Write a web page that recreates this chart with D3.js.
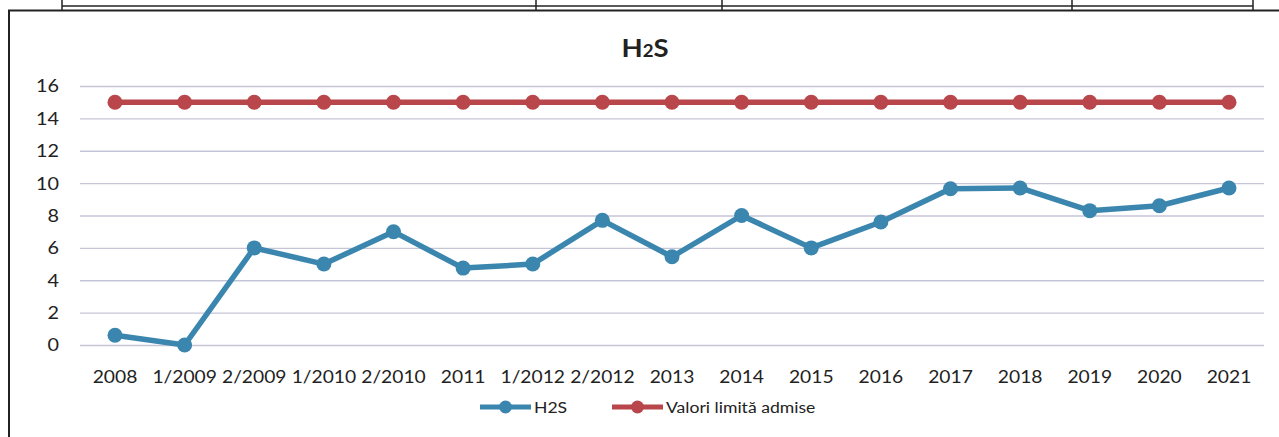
<!DOCTYPE html>
<html>
<head>
<meta charset="utf-8">
<script src="https://cdn.jsdelivr.net/npm/d3@7"></script>
<style>
  body { margin: 0; background: #fff; }
  svg { display: block; font-family: Lato, "Open Sans", sans-serif; }
</style>
</head>
<body>
<svg id="chart" width="1279" height="437"></svg>
<script>
// categories on the x axis
var categories = ["2008", "1/2009", "2/2009", "1/2010", "2/2010", "2011", "1/2012", "2/2012",
    "2013", "2014", "2015", "2016", "2017", "2018", "2019", "2020", "2021"];
// measured H2S values
var h2sValues = [0.6, 0, 6, 5, 7, 4.75, 5, 7.7, 5.45, 8, 6, 7.6, 9.65, 9.7, 8.3, 8.6, 9.7];
// admitted limit values
var limitValues = [15, 15, 15, 15, 15, 15, 15, 15, 15, 15, 15, 15, 15, 15, 15, 15, 15];
var yTicks = [0, 2, 4, 6, 8, 10, 12, 14, 16];

var blue = "#3a86ae";
var red = "#b8464b";
var textStretch = 1.1; // the scanned page is a little wider than tall

var svg = d3.select("#chart");

// remnants of the table above the chart (scanned page)
var page = svg.append("g").attr("stroke", "#222").attr("fill", "none");
page.append("line").attr("x1", 62).attr("x2", 1253).attr("y1", 6).attr("y2", 6).attr("stroke-width", 1.5);
[62, 536, 722, 1072, 1253].forEach(function(x){
    page.append("line").attr("x1", x).attr("x2", x).attr("y1", 0).attr("y2", 10).attr("stroke-width", 1.5);
});
// chart frame
page.append("path")
    .attr("d", "M9,437 L9,10.5 L1279,10.5")
    .attr("stroke-width", 2);

var x = d3.scalePoint()
    .domain(categories)
    .range([115, 1229]);

var y = d3.scaleLinear()
    .domain([0, 16])
    .range([345, 86]);

function stretched(px, py){
    return "translate(" + px + "," + py + ") scale(" + textStretch + ",1)";
}

// gridlines
svg.append("g")
    .selectAll("line")
    .data(yTicks)
    .join("line")
    .attr("x1", 80)
    .attr("x2", 1264)
    .attr("y1", function(d){ return y(d) + 0.5; })
    .attr("y2", function(d){ return y(d) + 0.5; })
    .attr("stroke", "#c5c5d8")
    .attr("stroke-width", 1.4);

// y axis labels
svg.append("g")
    .selectAll("text")
    .data(yTicks)
    .join("text")
    .attr("transform", function(d){ return stretched(59, y(d)); })
    .attr("dy", "0.36em")
    .attr("text-anchor", "end")
    .attr("font-size", 18)
    .attr("fill", "#222")
    .text(function(d){ return d; });

// x axis labels
svg.append("g")
    .selectAll("text")
    .data(categories)
    .join("text")
    .attr("transform", function(d){ return stretched(x(d), 383); })
    .attr("text-anchor", "middle")
    .attr("font-size", 17.5)
    .attr("fill", "#222")
    .text(function(d){ return d; });

function drawSeries(values, color){
    var line = d3.line()
        .x(function(d, i){ return x(categories[i]); })
        .y(function(d){ return y(d); });
    svg.append("path")
        .datum(values)
        .attr("d", line)
        .attr("fill", "none")
        .attr("stroke", color)
        .attr("stroke-width", 5.5)
        .attr("stroke-linejoin", "round");
    svg.append("g")
        .selectAll("circle")
        .data(values)
        .join("circle")
        .attr("cx", function(d, i){ return x(categories[i]); })
        .attr("cy", function(d){ return y(d); })
        .attr("r", 7.5)
        .attr("fill", color);
}

drawSeries(limitValues, red);
drawSeries(h2sValues, blue);

// title
var title = svg.append("text")
    .attr("transform", stretched(645, 57))
    .attr("text-anchor", "middle")
    .attr("font-size", 25)
    .attr("font-weight", "bold")
    .attr("fill", "#222");
title.append("tspan").text("H");
title.append("tspan").attr("font-size", 17).text("2");
title.append("tspan").text("S");

// legend
var legendItems = [
    {label: "H2S", color: blue, x: 480},
    {label: "Valori limită admise", color: red, x: 612}
];
var legend = svg.append("g");
legendItems.forEach(function(item){
    legend.append("line")
        .attr("x1", item.x).attr("x2", item.x + 51)
        .attr("y1", 407).attr("y2", 407)
        .attr("stroke", item.color)
        .attr("stroke-width", 5);
    legend.append("circle")
        .attr("cx", item.x + 25.5).attr("cy", 407)
        .attr("r", 6.5)
        .attr("fill", item.color);
    legend.append("text")
        .attr("transform", stretched(item.x + 54, 407))
        .attr("dy", "0.36em")
        .attr("font-size", 16)
        .attr("fill", "#222")
        .text(item.label);
});
</script>
</body>
</html>
